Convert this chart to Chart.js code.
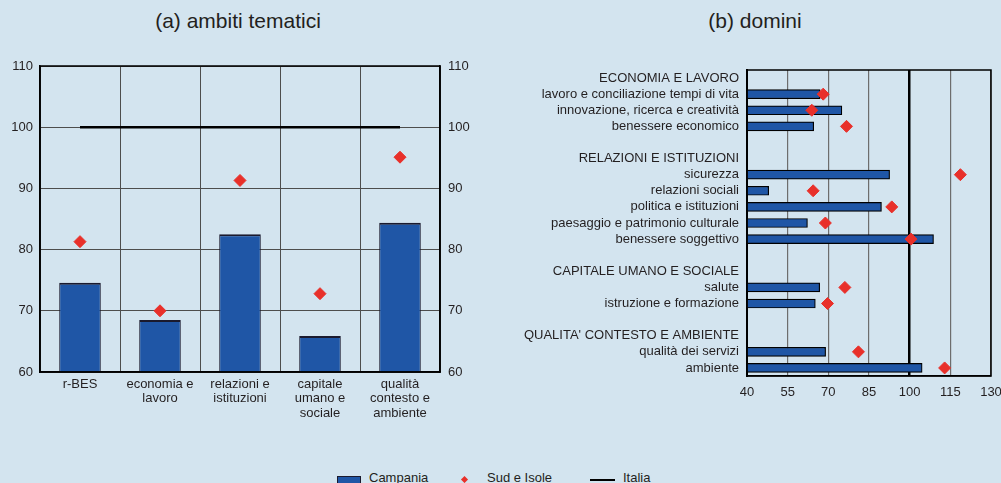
<!DOCTYPE html>
<html>
<head>
<meta charset="utf-8">
<script src="https://cdn.jsdelivr.net/npm/chart.js@4.4.1/dist/chart.umd.min.js"></script>
<style>
  body { margin: 0; background: #d3e4ef; font-family: "Liberation Sans", Arial, sans-serif; }
  #wrap { position: relative; width: 1001px; height: 483px; overflow: hidden; background: #d3e4ef; }
  .title { position: absolute; top: 9px; font-size: 21px; color: #231f20; text-align: center; }
  #boxA { position: absolute; left: 0; top: 0; width: 490px; height: 440px; }
  #boxB { position: absolute; left: 490px; top: 0; width: 511px; height: 440px; }
  .legend { position: absolute; top: 470px; font-size: 13px; color: #231f20; }
  .sw { position: absolute; }
</style>
</head>
<body>
<div id="wrap">
  <div class="title" style="left:88px;width:300px;">(a) ambiti tematici</div>
  <div class="title" style="left:605px;width:300px;">(b) domini</div>
  <div id="boxA"><canvas id="chartA"></canvas></div>
  <div id="boxB"><canvas id="chartB"></canvas></div>

  <div class="sw" style="left:337px;top:476px;width:22px;height:10px;background:#1f56a6;border:1px solid #1a1a2e;"></div>
  <div class="legend" style="left:369px;">Campania</div>
  <div class="sw" style="left:462px;top:477px;width:5px;height:5px;background:#e8302a;transform:rotate(45deg);"></div>
  <div class="legend" style="left:487px;">Sud e Isole</div>
  <div class="sw" style="left:590px;top:479px;width:25px;height:2px;background:#000;"></div>
  <div class="legend" style="left:623px;">Italia</div>
</div>
<script>
// (a) ambiti tematici
const ambiti = [['r-BES'], ['economia e', 'lavoro'], ['relazioni e', 'istituzioni'], ['capitale', 'umano e', 'sociale'], ['qualità', 'contesto e', 'ambiente']];
const campaniaA = [74.6, 68.5, 82.5, 65.9, 84.4];
const sudA = [81.3, 70.0, 91.3, 72.8, 95.1];
const italiaA = [100, 100, 100, 100, 100];

// (b) domini (righe vuote e titoli di gruppo senza valori)
const domini = [
  'ECONOMIA E LAVORO',
  'lavoro e conciliazione tempi di vita',
  'innovazione, ricerca e creatività',
  'benessere economico',
  '',
  'RELAZIONI E ISTITUZIONI',
  'sicurezza',
  'relazioni sociali',
  'politica e istituzioni',
  'paesaggio e patrimonio culturale',
  'benessere soggettivo',
  '',
  'CAPITALE UMANO E SOCIALE',
  'salute',
  'istruzione e formazione',
  '',
  "QUALITA' CONTESTO E AMBIENTE",
  'qualità dei servizi',
  'ambiente'
];
const campaniaB = [null, 67.0, 75.0, 64.6, null, null, 92.6, 48.0, 89.6, 62.3, 108.8, null, null, 66.8, 65.2, null, null, 69.0, 104.6];
const sudB = [null, 68.1, 63.9, 76.7, null, null, 118.7, 64.4, 93.4, 68.9, 100.5, null, null, 76.1, 69.7, null, null, 81.1, 112.9];

const BLUE = '#1f56a6';
const RED = '#e8302a';
const TXT = '#231f20';
const GRID = '#4d4d4d';
Chart.defaults.font.family = '"Liberation Sans", Arial, sans-serif';
Chart.defaults.font.size = 13;
Chart.defaults.color = TXT;

const frame = {
  id: 'frame',
  afterDraw(chart) {
    const a = chart.chartArea, c = chart.ctx;
    c.save();
    c.strokeStyle = '#000';
    c.lineWidth = 1.5;
    c.strokeRect(a.left, a.top, a.right - a.left, a.bottom - a.top);
    c.restore();
  }
};

new Chart(document.getElementById('chartA'), {
  type: 'bar',
  data: {
    labels: ambiti,
    datasets: [
      { type: 'line', label: 'Italia', data: italiaA, borderColor: '#000', borderWidth: 2.5, pointRadius: 0, order: 0 },
      { type: 'line', label: 'Sud e Isole', data: sudA, showLine: false, pointStyle: 'rectRot', pointRadius: 6, backgroundColor: RED, borderColor: RED, order: 1 },
      { label: 'Campania', data: campaniaA, backgroundColor: BLUE, borderColor: '#1a1a2e', borderWidth: { top: 2, left: 1, right: 1, bottom: 0 }, categoryPercentage: 1, barPercentage: 0.52, base: 60, order: 2 }
    ]
  },
  options: {
    responsive: true, maintainAspectRatio: false, animation: false,
    layout: { padding: { top: 66, left: 0, right: 0, bottom: 6 } },
    plugins: { legend: { display: false }, tooltip: { enabled: false } },
    scales: {
      x: {
        grid: { color: GRID, lineWidth: 1, offset: true, drawTicks: false },
        border: { color: '#000', width: 1.5 },
        ticks: { padding: 5, maxRotation: 0, autoSkip: false, font: { size: 13, lineHeight: 1.12 } },
        afterFit(s) { s.height = 62; }
      },
      y: {
        position: 'left', min: 60, max: 110,
        grid: { color: GRID, lineWidth: 1, drawTicks: false },
        border: { color: '#000', width: 1.5 },
        ticks: { stepSize: 10, padding: 7 },
        afterFit(s) { s.width = 40; }
      },
      y2: {
        position: 'right', min: 60, max: 110,
        grid: { display: false, drawTicks: false },
        border: { color: '#000', width: 1.5 },
        ticks: { stepSize: 10, padding: 8 },
        afterFit(s) { s.width = 50; }
      }
    }
  },
  plugins: [frame]
});

new Chart(document.getElementById('chartB'), {
  type: 'bar',
  data: {
    labels: domini,
    datasets: [
      { type: 'line', label: 'Sud e Isole', data: sudB, showLine: false, pointStyle: 'rectRot', pointRadius: 6, backgroundColor: RED, borderColor: RED, order: 0 },
      { label: 'Campania', data: campaniaB, backgroundColor: BLUE, borderColor: '#000', borderWidth: 1.2, barThickness: 9, base: 40, order: 1 }
    ]
  },
  options: {
    indexAxis: 'y',
    responsive: true, maintainAspectRatio: false, animation: false,
    layout: { padding: { top: 70, left: 0, right: 10, bottom: 10 } },
    plugins: { legend: { display: false }, tooltip: { enabled: false } },
    scales: {
      x: {
        min: 40, max: 130,
        grid: {
          drawTicks: false,
          color: ctx => ctx.tick && ctx.tick.value === 100 ? '#000' : '#6d6d6d',
          lineWidth: ctx => ctx.tick && ctx.tick.value === 100 ? 2.5 : 1.2
        },
        border: { color: '#000', width: 1.5 },
        ticks: { stepSize: 15, padding: 9 },
        afterFit(s) { s.height = 54; s.paddingLeft = 0; s.paddingRight = 0; }
      },
      y: {
        grid: { display: false, drawTicks: false },
        border: { color: '#000', width: 2 },
        ticks: { autoSkip: false, padding: 8 },
        afterFit(s) { s.width = 257; }
      }
    }
  },
  plugins: [frame]
});
</script>
</body>
</html>
